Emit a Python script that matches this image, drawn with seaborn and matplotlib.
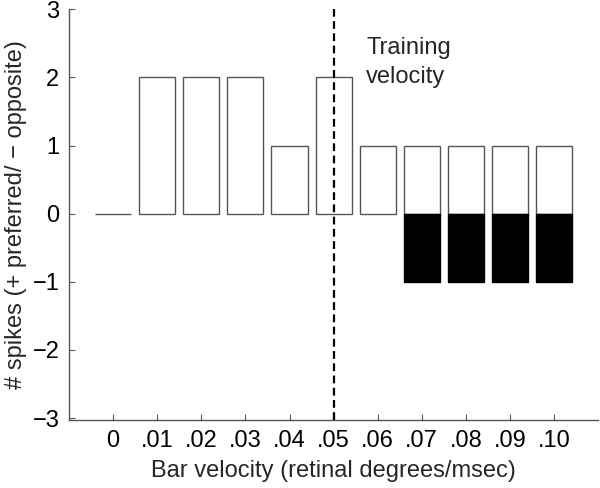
import matplotlib
matplotlib.use("Agg")
import matplotlib.pyplot as plt
import seaborn as sns
import pandas as pd

velocities = ["0", ".01", ".02", ".03", ".04", ".05", ".06", ".07", ".08", ".09", ".10"]
preferred = [0, 2, 2, 2, 1, 2, 1, 1, 1, 1, 1]
opposite = [0, 0, 0, 0, 0, 0, 0, -1, -1, -1, -1]
yticks = [-3, -2, -1, 0, 1, 2, 3]
training_index = 5

sns.set_style("white")
plt.rcParams['font.family'] = ['Liberation Sans', 'DejaVu Sans']

df = pd.DataFrame({"velocity": velocities, "preferred": preferred, "opposite": opposite})

fig = plt.figure(figsize=(6, 4.88), dpi=100)
ax = fig.add_axes([0.115, 0.139, 0.882, 0.842])

sns.barplot(data=df, x="velocity", y="preferred", order=velocities, color="white",
            edgecolor="#555555", linewidth=1.0, width=0.82, saturation=1, ax=ax)
sns.barplot(data=df, x="velocity", y="opposite", order=velocities, color="black",
            edgecolor="black", linewidth=1.0, width=0.82, saturation=1, ax=ax)
for p in ax.patches:
    if p.get_facecolor()[0] == 0 and p.get_height() == 0:
        p.set_visible(False)

ax.axvline(training_index, color="black", linestyle=(0, (3.5, 2)), linewidth=1.6)
ax.text(training_index + 0.74, 2.22, "Training\nvelocity", fontsize=17,
        ha="left", va="center", linespacing=1.45)

ax.set_xlim(-1, 11)
ax.set_ylim(-3.03, 3)
ax.set_yticks(yticks)
ax.set_yticklabels([str(t).replace("-", "\u2212") for t in yticks])
ax.set_xticks(range(len(velocities)))
ax.set_xticklabels(velocities)
ax.tick_params(direction="in", length=4, width=0.8, colors="#555555", labelcolor="black",
               labelsize=17, pad=7, left=True, bottom=True)
ax.set_xlabel("Bar velocity (retinal degrees/msec)", fontsize=17, labelpad=6)
ax.set_ylabel("# spikes (+ preferred/ \u2212 opposite)", fontsize=17, labelpad=4)
for s in ["top", "right"]:
    ax.spines[s].set_visible(False)
for s in ["left", "bottom"]:
    ax.spines[s].set_color("#555555")
    ax.spines[s].set_linewidth(1.0)

fig.savefig("out.png", dpi=100)
